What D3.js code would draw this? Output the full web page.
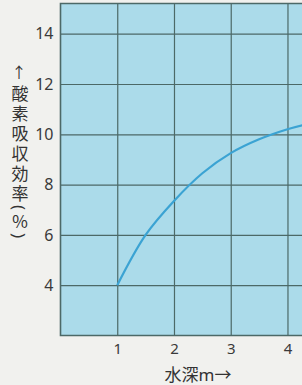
<!DOCTYPE html>
<html><head><meta charset="utf-8">
<script src="https://cdn.jsdelivr.net/npm/d3@7"></script>
<style>
html,body{margin:0;padding:0;background:#f1f1ee;}
svg{display:block;}
</style></head>
<body>
<svg id="c" width="302" height="385"></svg>
<script>
const depth = [1, 1.5, 2, 2.5, 3, 3.5, 4, 4.3];
const efficiency = [4, 6, 7.35, 8.45, 9.25, 9.8, 10.2, 10.38];
const xTicks = [1, 2, 3, 4];
const yTicks = [4, 6, 8, 10, 12, 14];
const yTitle = "酸素吸収効率(％)";
const xTitle = "水深m→";

const svg = d3.select("#c");
const x = d3.scaleLinear().domain([0, 4.3]).range([60.5, 304.5]);
const y = d3.scaleLinear().domain([2, 15.2]).range([335.5, 3.5]);

const font = "'Noto Sans', 'Noto Sans CJK JP', sans-serif";
const gridColor = "#4c6967";

svg.append("rect")
  .attr("x", x(0)).attr("y", y(15.2))
  .attr("width", x(4.3) - x(0)).attr("height", y(2) - y(15.2))
  .attr("fill", "#abdbea");

svg.append("g").attr("transform", `translate(${x(0)},0)`)
  .call(d3.axisLeft(y).tickValues(yTicks).tickSize(-(x(4.3) - x(0))).tickFormat(d3.format("d")).tickPadding(6))
  .call(g => g.select(".domain").remove())
  .call(g => g.selectAll("line").attr("stroke", gridColor).attr("stroke-width", 1.2))
  .call(g => g.selectAll("text").attr("font-family", font).attr("font-size", 16).attr("fill", "#3a3a3a").attr("dx", -1));

svg.append("g").attr("transform", `translate(0,${y(2)})`)
  .call(d3.axisBottom(x).tickValues(xTicks).tickSize(-(y(2) - y(15.2))).tickFormat(d3.format("d")).tickPadding(8))
  .call(g => g.select(".domain").remove())
  .call(g => g.selectAll("line").attr("stroke", gridColor).attr("stroke-width", 1.2))
  .call(g => g.selectAll("text").attr("font-family", font).attr("font-size", 15).attr("fill", "#3a3a3a"));

svg.append("path")
  .attr("d", `M${x(4.3)},${y(15.2)}H${x(0)}V${y(2)}H${x(4.3)}`)
  .attr("fill", "none").attr("stroke", gridColor).attr("stroke-width", 1.6);

const pts = depth.map((d, i) => [d, efficiency[i]]);
svg.append("path")
  .datum(pts)
  .attr("d", d3.line().x(d => x(d[0])).y(d => y(d[1])).curve(d3.curveCatmullRom.alpha(0.5)))
  .attr("fill", "none").attr("stroke", "#3ba3d3").attr("stroke-width", 2.2);

svg.append("text").attr("x", 19).attr("y", 72)
  .attr("text-anchor", "middle").attr("dominant-baseline", "central")
  .attr("font-family", font).attr("font-size", 15).attr("fill", "#333")
  .text("↑");
svg.append("text").attr("x", 19).attr("y", 85)
  .attr("style", "writing-mode: vertical-rl; text-orientation: mixed;")
  .attr("font-family", font).attr("font-size", 17).attr("letter-spacing", 3)
  .attr("fill", "#333")
  .text(yTitle);

svg.append("text").attr("x", 198).attr("y", 381)
  .attr("text-anchor", "middle")
  .attr("font-family", font).attr("font-size", 17).attr("fill", "#333")
  .text(xTitle);
</script>
</body></html>
